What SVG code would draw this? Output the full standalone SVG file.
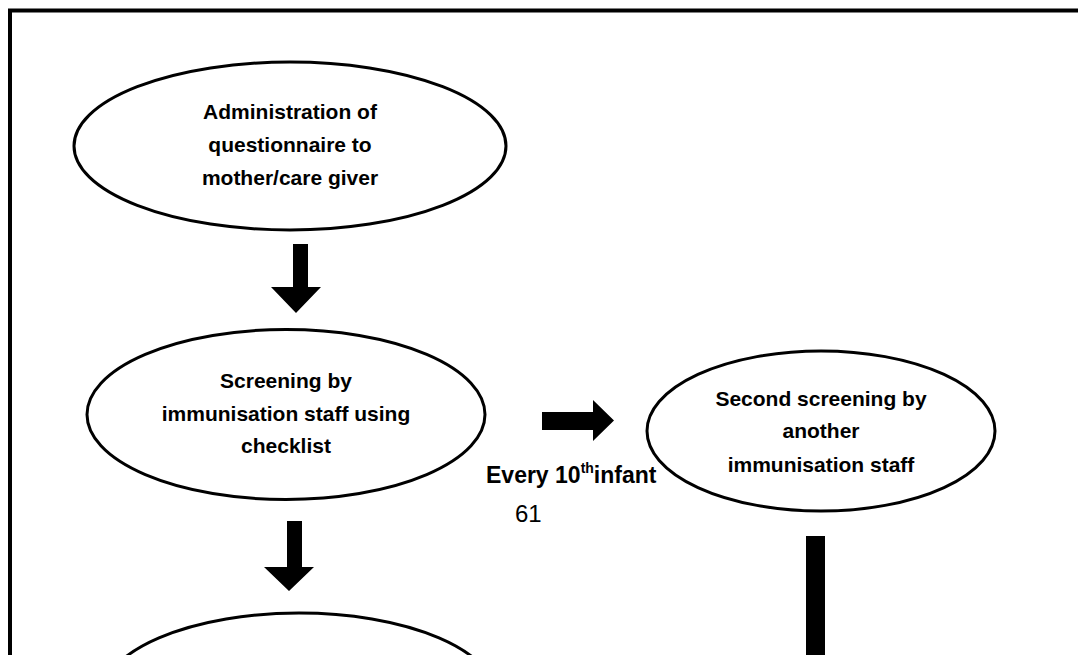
<svg xmlns="http://www.w3.org/2000/svg" width="1078" height="655" viewBox="0 0 1078 655">
<style>
.node ellipse{fill:#fff;stroke:#000;stroke-width:3}
.lbl{font-family:"Liberation Sans",Arial,sans-serif;font-weight:bold;font-size:21px;fill:#000;text-anchor:middle}
.arrow{fill:#000}
</style>
<rect width="1078" height="655" fill="#fff"/>
<path d="M10,655 V10.5 H1078" fill="none" stroke="#000" stroke-width="4"/>
<g id="n1" class="node">
<ellipse cx="290" cy="146" rx="216" ry="84"/>
<text class="lbl" x="290" y="119">Administration of</text>
<text class="lbl" x="290" y="152">questionnaire to</text>
<text class="lbl" x="290" y="185">mother/care giver</text>
</g>
<g id="n2" class="node">
<ellipse cx="286" cy="414.5" rx="199" ry="85"/>
<text class="lbl" x="286" y="388">Screening by</text>
<text class="lbl" x="286" y="421">immunisation staff using</text>
<text class="lbl" x="286" y="453">checklist</text>
</g>
<g id="n3" class="node">
<ellipse cx="821" cy="431" rx="174" ry="80"/>
<text class="lbl" x="821" y="406">Second screening by</text>
<text class="lbl" x="821" y="438">another</text>
<text class="lbl" x="821" y="472">immunisation staff</text>
</g>
<g id="n4" class="node">
<ellipse cx="299" cy="698" rx="198" ry="85"/>
</g>
<g id="connectors">
<polygon class="arrow" points="293,244 308,244 308,287 321,287 296,313 271,287 293,287"/>
<polygon class="arrow" points="287,521 302,521 302,567 314,567 289,591 264,567 287,567"/>
<polygon class="arrow" points="542,412 593,412 593,400 614,420.5 593,441 593,430 542,430"/>
<rect class="arrow" x="806" y="536" width="19" height="119"/>
</g>
<g id="label">
<text font-family="'Liberation Sans',Arial,sans-serif" font-weight="bold" font-size="23" x="486" y="483">Every 10<tspan font-size="14" dy="-10">th</tspan><tspan dy="10">infant</tspan></text>
<text font-family="'Liberation Sans',Arial,sans-serif" font-size="24" x="515" y="522">61</text>
</g>
</svg>
